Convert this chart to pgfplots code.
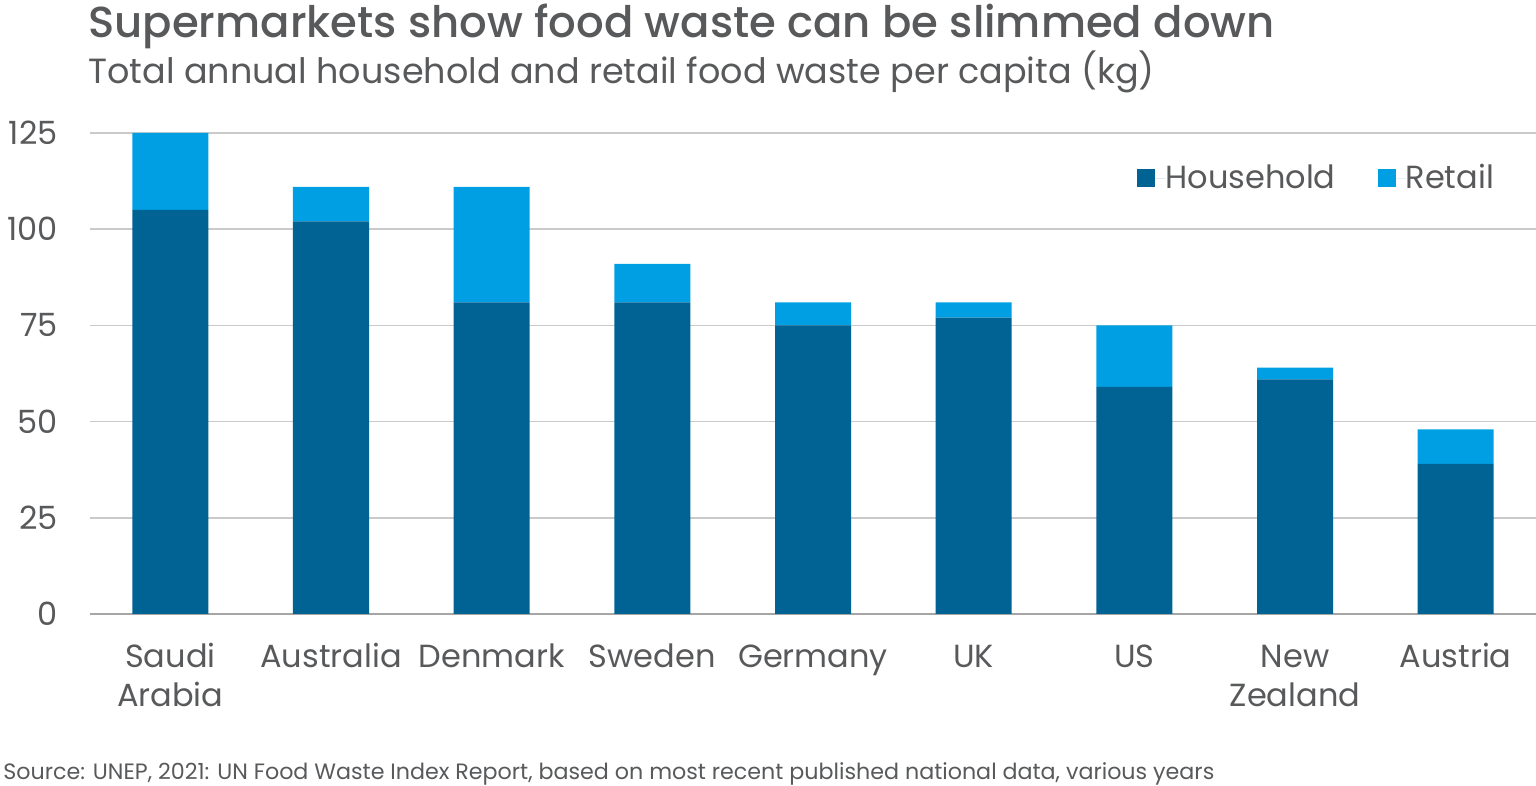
\documentclass[border=0pt]{standalone}
\usepackage{pgfplots}
\pgfplotsset{compat=1.18}
\usepackage{fontspec}
\setmainfont{Poppins}[BoldFont={Poppins Medium}]
\definecolor{hh}{HTML}{006394}
\definecolor{rt}{HTML}{009FE3}
\definecolor{txt}{HTML}{58595B}
\definecolor{gridc}{HTML}{CACACA}
\definecolor{axgray}{HTML}{A6A6A6}
\begin{document}
\begin{tikzpicture}
\useasboundingbox (-45pt,-86pt) rectangle (723pt,307pt);
\begin{axis}[at={(0,0)}, anchor=south west, scale only axis,
  width=723pt, height=240.5pt,
  xmin=-0.5, xmax=8.5, ymin=0, ymax=125,
  ybar stacked, bar width=38pt,
  xtick=data,
  xticklabels={{\strut Saudi\\Arabia},\strut Australia,\strut Denmark,\strut Sweden,\strut Germany,\strut UK,\strut US,{\strut New\\Zealand},\strut Austria},
  ytick={25,50,75,100,125},
  extra y ticks={0},
  extra y tick style={grid style={color=axgray, line width=1pt}},
  ymajorgrids, grid style={color=gridc, line width=0.75pt},
  axis line style={draw=none}, major tick length=0pt, tick style={draw=none},
  ticklabel style={font=\fontsize{16}{19.5}\selectfont, text=txt},
  xticklabel style={align=center, anchor=north, inner sep=0pt, yshift=-13pt},
  yticklabel style={anchor=east, inner sep=0pt, xshift=-16pt},
  /pgf/number format/assume math mode=true,
  legend columns=2,
  legend style={draw=none, fill=none, at={(0.7241,0.9064)}, anchor=west,
    inner sep=0pt, nodes={inner sep=0pt, text=txt},
    font=\fontsize{16}{19.5}\selectfont,
    /tikz/every even column/.append style={column sep=21pt}},
  legend image code/.code={\fill[#1] (0pt,-4.5pt) rectangle (9pt,4.5pt); \path (0pt,0pt) -- (14pt,0pt);},
]
\addplot[fill=hh, draw=none] coordinates {(0,105) (1,102) (2,81) (3,81) (4,75) (5,77) (6,59) (7,61) (8,39)};
\addplot[fill=rt, draw=none] coordinates {(0,20) (1,9) (2,30) (3,10) (4,6) (5,4) (6,16) (7,3) (8,9)};
\legend{Household,Retail}
\end{axis}
\node[anchor=base west, inner sep=0pt, text=txt, font=\fontsize{21.7}{25}\selectfont\bfseries] at (-1pt,288pt) {Supermarkets show food waste can be slimmed down};
\node[anchor=base west, inner sep=0pt, text=txt, font=\fontsize{17.5}{20}\selectfont] at (-1pt,265pt) {Total annual household and retail food waste per capita (kg)};
\node[anchor=base west, inner sep=0pt, text=txt, font=\fontsize{11.1}{13}\selectfont] at (-43.5pt,-83pt) {Source: UNEP, 2021: UN Food Waste Index Report, based on most recent published national data, various years};
\end{tikzpicture}
\end{document}
